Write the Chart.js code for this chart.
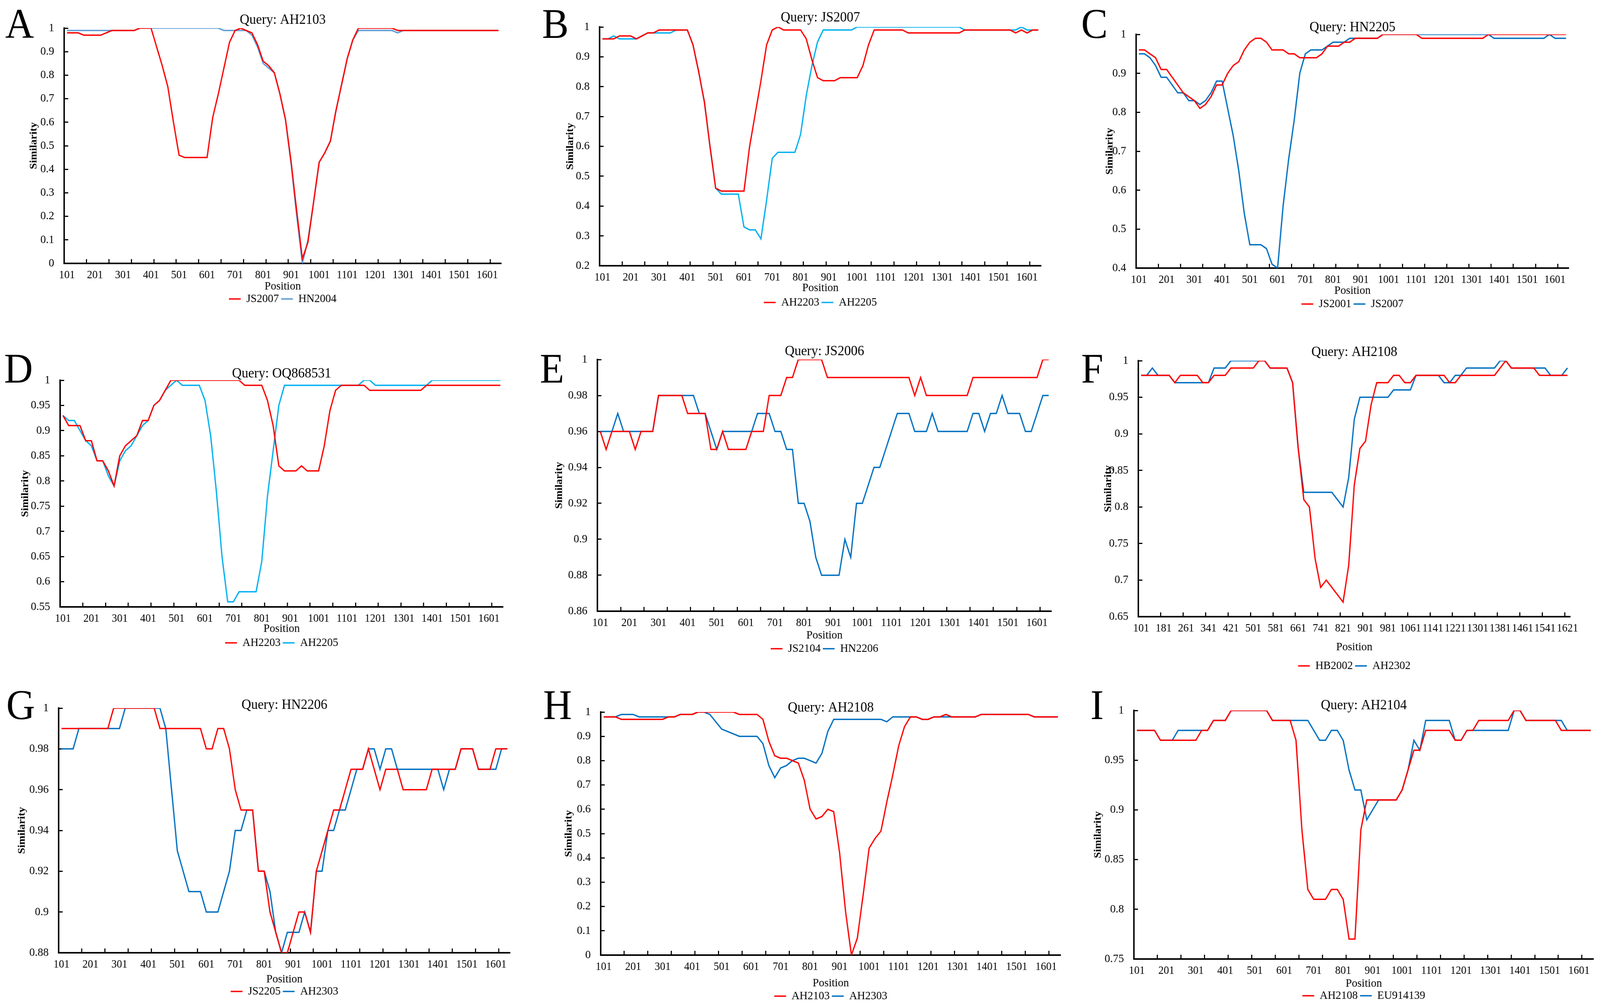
<!DOCTYPE html>
<html>
<head>
<meta charset="utf-8">
<title>Similarity plots</title>
<script src="https://cdn.jsdelivr.net/npm/chart.js@4.4.1/dist/chart.umd.min.js"></script>
<style>
  html, body { margin: 0; padding: 0; background: #fff; overflow: hidden; }
  #page { position: absolute; left: 0; top: 0; width: 4339px; height: 2564px; transform-origin: 0 0; }
  canvas { position: absolute; }
  .tag { position: absolute; font-family: 'Liberation Serif', 'Times New Roman', serif; font-size: 108px; line-height: 1; color: #000; }
</style>
</head>
<body>
<div id="page">
<div class="tag" style="left:14px;top:7px">A</div>
<div class="tag" style="left:1470px;top:7px">B</div>
<div class="tag" style="left:2932px;top:7px">C</div>
<div class="tag" style="left:11px;top:889px">D</div>
<div class="tag" style="left:1464px;top:889px">E</div>
<div class="tag" style="left:2932px;top:889px">F</div>
<div class="tag" style="left:17px;top:1750px">G</div>
<div class="tag" style="left:1473px;top:1750px">H</div>
<div class="tag" style="left:2957px;top:1750px">I</div>
</div>
<script>
// window positions (x axis)
const positions = [101,121,141,161,181,201,221,241,261,281,301,321,341,361,381,401,421,441,461,481,
  501,521,541,561,581,601,621,641,661,681,701,721,741,761,781,801,821,841,861,881,
  901,921,941,961,981,1001,1021,1041,1061,1081,1101,1121,1141,1161,1181,1201,1221,1241,1261,1281,
  1301,1321,1341,1361,1381,1401,1421,1441,1461,1481,1501,1521,1541,1561,1581,1601,1621,1641];
const positionsF = [101,121,141,161,181,201,221,241,261,281,301,321,341,361,381,401,421,441,461,481,
  501,521,541,561,581,601,621,641,661,681,701,721,741,761,781,801,821,841,861,881,
  901,921,941,961,981,1001,1021,1041,1061,1081,1101,1121,1141,1161,1181,1201,1221,1241,1261,1281,
  1301,1321,1341,1361,1381,1401,1421,1441,1461,1481,1501,1521,1541,1561,1581,1601,1621];

// y tick values
const yTicksA = [0,0.1,0.2,0.3,0.4,0.5,0.6,0.7,0.8,0.9,1];
const yTicksB = [0.2,0.3,0.4,0.5,0.6,0.7,0.8,0.9,1];
const yTicksC = [0.4,0.5,0.6,0.7,0.8,0.9,1];
const yTicksD = [0.55,0.6,0.65,0.7,0.75,0.8,0.85,0.9,0.95,1];
const yTicksE = [0.86,0.88,0.9,0.92,0.94,0.96,0.98,1];
const yTicksF = [0.65,0.7,0.75,0.8,0.85,0.9,0.95,1];
const yTicksG = [0.88,0.9,0.92,0.94,0.96,0.98,1];
const yTicksH = [0,0.1,0.2,0.3,0.4,0.5,0.6,0.7,0.8,0.9,1];
const yTicksI = [0.75,0.8,0.85,0.9,0.95,1];

// A  Query: AH2103
const aRed = [.98,.98,.98,.97,.97,.97,.97,.98,.99,.99,
  .99,.99,.99,1,1,1,.92,.84,.75,.6,
  .46,.45,.45,.45,.45,.45,.62,.72,.83,.94,
  .99,1,.99,.98,.93,.86,.84,.81,.72,.61,
  .43,.22,.02,.09,.26,.43,.47,.52,.65,.76,
  .87,.95,1,1,1,1,1,1,1,.99,
  .99,.99,.99,.99,.99,.99,.99,.99,.99,.99,
  .99,.99,.99,.99,.99,.99,.99,.99];
const aBlue = [.99,.99,.99,.99,.99,.99,.99,.99,.99,.99,
  .99,.99,.99,1,1,1,1,1,1,1,
  1,1,1,1,1,1,1,1,.99,.99,
  .99,.99,.99,.97,.92,.85,.83,.81,.72,.61,
  .42,.2,0,.1,.26,.43,.47,.52,.65,.76,
  .87,.95,.99,.99,.99,.99,.99,.99,.99,.98,
  .99,.99,.99,.99,.99,.99,.99,.99,.99,.99,
  .99,.99,.99,.99,.99,.99,.99,.99];

// B  Query: JS2007
const bRed = [.96,.96,.96,.97,.97,.97,.96,.97,.98,.98,
  .99,.99,.99,.99,.99,.99,.94,.85,.75,.6,
  .46,.45,.45,.45,.45,.45,.6,.71,.82,.94,
  .99,1,.99,.99,.99,.99,.96,.89,.83,.82,
  .82,.82,.83,.83,.83,.83,.87,.94,.99,.99,
  .99,.99,.99,.99,.98,.98,.98,.98,.98,.98,
  .98,.98,.98,.98,.99,.99,.99,.99,.99,.99,
  .99,.99,.99,.98,.99,.98,.99,.99];
const bBlue = [.96,.96,.97,.96,.96,.96,.96,.97,.98,.98,
  .98,.98,.98,.99,.99,.99,.94,.85,.75,.6,
  .46,.44,.44,.44,.44,.33,.32,.32,.29,.42,
  .56,.58,.58,.58,.58,.64,.77,.87,.95,.99,
  .99,.99,.99,.99,.99,1,1,1,1,1,
  1,1,1,1,1,1,1,1,1,1,
  1,1,1,1,.99,.99,.99,.99,.99,.99,
  .99,.99,.99,.99,1,.99,.99,.99];

// C  Query: HN2205
const cRed = [.96,.96,.95,.94,.91,.91,.89,.87,.85,.84,
  .83,.81,.82,.84,.87,.87,.9,.92,.93,.96,
  .98,.99,.99,.98,.96,.96,.96,.95,.95,.94,
  .94,.94,.94,.95,.97,.97,.97,.98,.98,.99,
  .99,.99,.99,.99,1,1,1,1,1,1,
  1,.99,.99,.99,.99,.99,.99,.99,.99,.99,
  .99,.99,.99,1,1,1,1,1,1,1,
  1,1,1,1,1,1,1,1];
const cBlue = [.95,.95,.94,.92,.89,.89,.87,.85,.85,.83,
  .83,.82,.83,.85,.88,.88,.81,.74,.65,.54,
  .46,.46,.46,.45,.41,.4,.56,.68,.78,.9,
  .95,.96,.96,.96,.97,.98,.98,.98,.99,.99,
  .99,.99,.99,.99,1,1,1,1,1,1,
  1,1,1,1,1,1,1,1,1,1,
  1,1,1,1,.99,.99,.99,.99,.99,.99,
  .99,.99,.99,.99,1,.99,.99,.99];

// D  Query: OQ868531
const dRed = [.93,.91,.91,.91,.88,.88,.84,.84,.82,.79,
  .85,.87,.88,.89,.92,.92,.95,.96,.98,1,
  1,1,1,1,1,1,1,1,1,1,
  1,1,.99,.99,.99,.99,.96,.91,.83,.82,
  .82,.82,.83,.82,.82,.82,.87,.94,.98,.99,
  .99,.99,.99,.99,.98,.98,.98,.98,.98,.98,
  .98,.98,.98,.98,.99,.99,.99,.99,.99,.99,
  .99,.99,.99,.99,.99,.99,.99,.99];
const dBlue = [.93,.92,.92,.9,.88,.87,.84,.84,.81,.79,
  .84,.86,.87,.89,.91,.92,.95,.96,.98,.99,
  1,.99,.99,.99,.99,.96,.89,.78,.65,.56,
  .56,.58,.58,.58,.58,.64,.77,.86,.95,.99,
  .99,.99,.99,.99,.99,.99,.99,.99,.99,.99,
  .99,.99,.99,1,1,.99,.99,.99,.99,.99,
  .99,.99,.99,.99,.99,1,1,1,1,1,
  1,1,1,1,1,1,1,1];

// E  Query: JS2006
const eRed = [.96,.95,.96,.96,.96,.96,.95,.96,.96,.96,
  .98,.98,.98,.98,.98,.97,.97,.97,.97,.95,
  .95,.96,.95,.95,.95,.95,.96,.96,.96,.98,
  .98,.98,.99,.99,1,1,1,1,1,.99,
  .99,.99,.99,.99,.99,.99,.99,.99,.99,.99,
  .99,.99,.99,.99,.98,.99,.98,.98,.98,.98,
  .98,.98,.98,.98,.99,.99,.99,.99,.99,.99,
  .99,.99,.99,.99,.99,.99,1,1];
const eBlue = [.96,.96,.96,.97,.96,.96,.96,.96,.96,.96,
  .98,.98,.98,.98,.98,.98,.98,.97,.97,.96,
  .95,.96,.96,.96,.96,.96,.96,.97,.97,.97,
  .96,.96,.95,.95,.92,.92,.91,.89,.88,.88,
  .88,.88,.9,.89,.92,.92,.93,.94,.94,.95,
  .96,.97,.97,.97,.96,.96,.96,.97,.96,.96,
  .96,.96,.96,.96,.97,.97,.96,.97,.97,.98,
  .97,.97,.97,.96,.96,.97,.98,.98];

// F  Query: AH2108
const fRed = [.98,.98,.98,.98,.98,.98,.97,.98,.98,.98,
  .98,.97,.97,.98,.98,.98,.99,.99,.99,.99,
  .99,1,1,.99,.99,.99,.99,.97,.88,.81,
  .8,.73,.69,.7,.69,.68,.67,.72,.83,.88,
  .89,.94,.97,.97,.97,.98,.98,.97,.97,.98,
  .98,.98,.98,.98,.98,.97,.97,.98,.98,.98,
  .98,.98,.98,.98,.99,1,.99,.99,.99,.99,
  .99,.98,.98,.98,.98,.98,.98];
const fBlue = [.98,.98,.99,.98,.98,.98,.97,.97,.97,.97,
  .97,.97,.97,.99,.99,.99,1,1,1,1,
  1,1,1,.99,.99,.99,.99,.97,.88,.82,
  .82,.82,.82,.82,.82,.81,.8,.84,.92,.95,
  .95,.95,.95,.95,.95,.96,.96,.96,.96,.98,
  .98,.98,.98,.98,.97,.97,.98,.98,.99,.99,
  .99,.99,.99,.99,1,1,.99,.99,.99,.99,
  .99,.99,.99,.98,.98,.98,.99];

// G  Query: HN2206
const gRed = [.99,.99,.99,.99,.99,.99,.99,.99,.99,1,
  1,1,1,1,1,1,1,.99,.99,.99,
  .99,.99,.99,.99,.99,.98,.98,.99,.99,.98,
  .96,.95,.95,.95,.92,.92,.9,.89,.88,.88,
  .89,.9,.9,.89,.92,.93,.94,.95,.95,.96,
  .97,.97,.97,.98,.97,.96,.97,.97,.97,.96,
  .96,.96,.96,.96,.97,.97,.97,.97,.97,.98,
  .98,.98,.97,.97,.97,.98,.98,.98];
const gBlue = [.98,.98,.98,.99,.99,.99,.99,.99,.99,.99,
  .99,1,1,1,1,1,1,1,.99,.96,
  .93,.92,.91,.91,.91,.9,.9,.9,.91,.92,
  .94,.94,.95,.95,.92,.92,.91,.89,.88,.89,
  .89,.89,.9,.89,.92,.92,.94,.94,.95,.95,
  .96,.97,.97,.98,.98,.97,.98,.98,.97,.97,
  .97,.97,.97,.97,.97,.97,.96,.97,.97,.98,
  .98,.98,.97,.97,.97,.97,.98,.98];

// H  Query: AH2108
const hRed = [.98,.98,.98,.97,.97,.97,.97,.97,.97,.97,
  .97,.98,.98,.99,.99,.99,1,1,1,1,
  1,1,1,.99,.99,.99,.99,.97,.88,.82,
  .81,.81,.8,.79,.72,.6,.56,.57,.6,.59,
  .42,.18,0,.07,.25,.44,.48,.51,.63,.74,
  .86,.94,.98,.98,.97,.97,.98,.98,.99,.98,
  .98,.98,.98,.98,.99,.99,.99,.99,.99,.99,
  .99,.99,.99,.98,.98,.98,.98,.98];
const hBlue = [.98,.98,.98,.99,.99,.99,.98,.98,.98,.98,
  .98,.98,.98,.99,.99,.99,1,1,.99,.96,
  .93,.92,.91,.9,.9,.9,.9,.87,.78,.73,
  .77,.78,.8,.81,.81,.8,.79,.83,.92,.97,
  .97,.97,.97,.97,.97,.97,.97,.97,.96,.98,
  .98,.98,.98,.98,.97,.97,.98,.98,.98,.98,
  .98,.98,.98,.98,.99,.99,.99,.99,.99,.99,
  .99,.99,.99,.98,.98,.98,.98,.98];

// I  Query: AH2104
const iRed = [.98,.98,.98,.98,.97,.97,.97,.97,.97,.97,
  .97,.98,.98,.99,.99,.99,1,1,1,1,
  1,1,1,.99,.99,.99,.99,.97,.88,.82,
  .81,.81,.81,.82,.82,.81,.77,.77,.88,.91,
  .91,.91,.91,.91,.91,.92,.94,.96,.96,.98,
  .98,.98,.98,.98,.97,.97,.98,.98,.99,.99,
  .99,.99,.99,.99,1,1,.99,.99,.99,.99,
  .99,.99,.98,.98,.98,.98,.98,.98];
const iBlue = [.98,.98,.98,.98,.97,.97,.97,.98,.98,.98,
  .98,.98,.98,.99,.99,.99,1,1,1,1,
  1,1,1,.99,.99,.99,.99,.99,.99,.99,
  .98,.97,.97,.98,.98,.97,.94,.92,.92,.89,
  .9,.91,.91,.91,.91,.92,.94,.97,.96,.99,
  .99,.99,.99,.99,.97,.97,.98,.98,.98,.98,
  .98,.98,.98,.98,1,1,.99,.99,.99,.99,
  .99,.99,.99,.98,.98,.98,.98,.98];

const RED = '#FF0000';
const LIGHTBLUE = '#5B9BD5';
const CYAN = '#00B0F0';
const DARKBLUE = '#0070C0';

// box = plot area [left, right, top, bottom] in the 4339x2564 frame
const panels = [
  { query: 'AH2103', names: ['JS2007', 'HN2004'], red: aRed, blue: aBlue, blueColor: LIGHTBLUE, x: positions, every: 5, yTicks: yTicksA,
    box: [174, 1364, 58, 668], yW: 96, titleOff: 20, posOff: 59, legOff: 91 },
  { query: 'JS2007', names: ['AH2203', 'AH2205'], red: bRed, blue: bBlue, blueColor: CYAN, x: positions, every: 5, yTicks: yTicksB,
    box: [1626, 2828, 58, 674], yW: 93, titleOff: 23, posOff: 57, legOff: 94 },
  { query: 'HN2205', names: ['JS2001', 'JS2007'], red: cRed, blue: cBlue, blueColor: DARKBLUE, x: positions, every: 5, yTicks: yTicksC,
    box: [3081, 4259, 71, 680], yW: 85, titleOff: 17, posOff: 58, legOff: 92 },
  { query: 'OQ868531', names: ['AH2203', 'AH2205'], red: dRed, blue: dBlue, blueColor: CYAN, x: positions, every: 5, yTicks: yTicksD,
    box: [163, 1369, 955, 1547], yW: 108, titleOff: 16, posOff: 56, legOff: 92 },
  { query: 'JS2006', names: ['JS2104', 'HN2206'], red: eRed, blue: eBlue, blueColor: DARKBLUE, x: positions, every: 5, yTicks: yTicksE,
    box: [1620, 2856, 906, 1558], yW: 117, titleOff: 20, posOff: 62, legOff: 96 },
  { query: 'AH2108', names: ['HB2002', 'AH2302'], red: fRed, blue: fBlue, blueColor: DARKBLUE, x: positionsF, every: 4, yTicks: yTicksF,
    box: [3087, 4278, 910, 1572], yW: 95, titleOff: 21, posOff: 78, legOff: 126 },
  { query: 'HN2206', names: ['JS2205', 'AH2303'], red: gRed, blue: gBlue, blueColor: DARKBLUE, x: positions, every: 5, yTicks: yTicksG,
    box: [159, 1388, 1785, 2432], yW: 113, titleOff: 7, posOff: 68, legOff: 99 },
  { query: 'AH2108', names: ['AH2103', 'AH2303'], red: hRed, blue: hBlue, blueColor: DARKBLUE, x: positions, every: 5, yTicks: yTicksH,
    box: [1629, 2881, 1798, 2438], yW: 100, titleOff: 10, posOff: 72, legOff: 105 },
  { query: 'AH2104', names: ['AH2108', 'EU914139'], red: iRed, blue: iBlue, blueColor: DARKBLUE, x: positions, every: 5, yTicks: yTicksI,
    box: [3075, 4326, 1796, 2448], yW: 111, titleOff: 12, posOff: 63, legOff: 94 },
];

Chart.defaults.font.family = "'Liberation Serif', 'Times New Roman', serif";
Chart.defaults.color = '#000';

// the viewport can come out narrower than the 4339px frame: stretch the frame to fill it
const page = document.getElementById('page');
const sx = Math.min(1, window.innerWidth / 4339);
const sy = Math.min(1, window.innerHeight / 2564);
if (sx < 1 || sy < 1) page.style.transform = 'scale(' + sx + ',' + sy + ')';

panels.forEach(function (p) {
  const L = p.box[0], R = p.box[1], T = p.box[2], B = p.box[3];
  const titleH = 21.6 + p.titleOff;   // 36px title, lineHeight 1.2
  const xH = p.legOff - 21;           // legend text sits 21px under the x scale box
  const pr = p.every === 4 ? 26 : 12; // room for a last label at the right edge
  const w = Math.round(R - L + p.yW + pr);
  const h = Math.round(titleH + (B - T) + xH + 52 + 4);

  const cv = document.createElement('canvas');
  cv.width = w;
  cv.height = h;
  cv.style.width = w + 'px';
  cv.style.height = h + 'px';
  cv.style.left = (L - p.yW) + 'px';
  cv.style.top = (T - titleH) + 'px';
  page.appendChild(cv);

  new Chart(cv, {
    type: 'line',
    data: {
      labels: p.x,
      datasets: [
        { label: p.names[0], data: p.red, borderColor: RED, backgroundColor: RED },
        { label: p.names[1], data: p.blue, borderColor: p.blueColor, backgroundColor: p.blueColor },
      ],
    },
    options: {
      responsive: false,
      devicePixelRatio: 1,
      animation: false,
      layout: { padding: { left: 0, top: 0, right: pr, bottom: 4 } },
      elements: {
        line: { borderWidth: 3.5, tension: 0, fill: false },
        point: { radius: 0, hoverRadius: 0, borderWidth: 3.5 },
      },
      scales: {
        x: {
          type: 'category',
          offset: true,
          grid: {
            offset: true,
            drawOnChartArea: false,
            tickLength: -11,
            tickWidth: 3,
            tickColor: function (ctx) { return ctx.index % 4 === 0 ? '#000' : 'rgba(0,0,0,0)'; },
          },
          border: { display: true, color: '#000', width: 4 },
          ticks: {
            autoSkip: false,
            maxRotation: 0,
            minRotation: 0,
            padding: 24,
            font: { size: 29 },
            callback: function (v, i) { return i % p.every === 0 ? String(p.x[i]) : ''; },
          },
          title: {
            display: true,
            text: 'Position',
            font: { size: 30, lineHeight: 1 },
            padding: { top: 0, bottom: xH - 15 - p.posOff },
          },
          afterFit: function (s) { s.height = xH; },
        },
        y: {
          min: p.yTicks[0],
          max: p.yTicks[p.yTicks.length - 1],
          afterBuildTicks: function (s) { s.ticks = p.yTicks.map(function (v) { return { value: v }; }); },
          grid: { drawOnChartArea: false, tickLength: -11, tickWidth: 3, tickColor: '#000' },
          border: { display: true, color: '#000', width: 4 },
          ticks: {
            padding: 38,
            font: { size: 30 },
            callback: function (v) { return String(Math.round(v * 100) / 100); },
          },
          title: {
            display: true,
            text: 'Similarity',
            font: { size: 28, weight: 'bold', lineHeight: 1 },
            padding: 0,
          },
          afterFit: function (s) { s.width = p.yW; },
        },
      },
      plugins: {
        title: {
          display: true,
          text: 'Query: ' + p.query,
          fullSize: false,
          font: { size: 36, weight: 'normal', lineHeight: 1.2 },
          padding: { top: 0, bottom: p.titleOff - 21.6 },
        },
        legend: {
          position: 'bottom',
          fullSize: false,
          labels: {
            usePointStyle: true,
            pointStyle: 'line',
            pointStyleWidth: 32,
            padding: 6,
            font: { size: 30 },
          },
        },
        tooltip: { enabled: false },
      },
    },
  });
});
</script>
</body>
</html>
